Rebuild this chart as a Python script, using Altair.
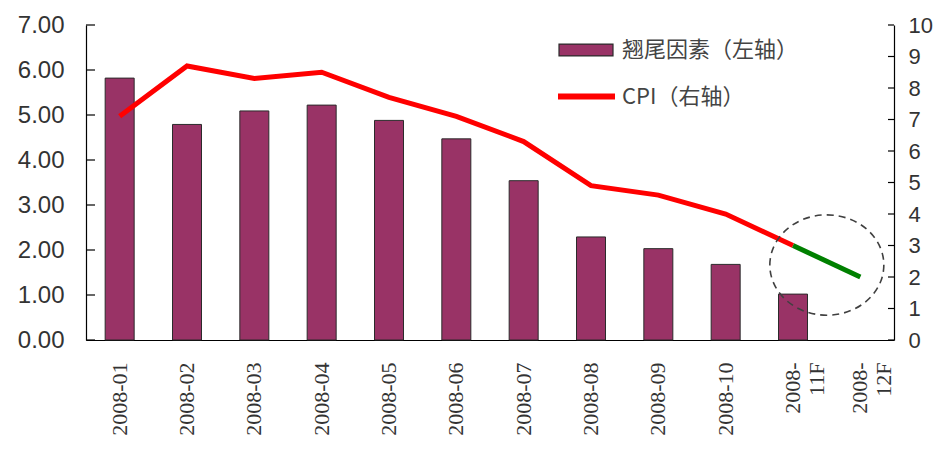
import altair as alt
import pandas as pd

# ---- data ----
months = ["2008-01", "2008-02", "2008-03", "2008-04", "2008-05", "2008-06",
          "2008-07", "2008-08", "2008-09", "2008-10", "2008-11F", "2008-12F"]
tail_months = months[:11]
tail_values = [5.82, 4.79, 5.09, 5.22, 4.88, 4.47, 3.54, 2.29, 2.03, 1.68, 1.02]
cpi_actual_months = months[:11]
cpi_actual = [7.1, 8.7, 8.3, 8.5, 7.7, 7.1, 6.3, 4.9, 4.6, 4.0, 3.0]
cpi_forecast_months = months[10:]
cpi_forecast = [3.0, 2.0]
left_ticks = [0, 1, 2, 3, 4, 5, 6, 7]
right_ticks = [0, 1, 2, 3, 4, 5, 6, 7, 8, 9, 10]
circle_month = ["2008-12F"]
circle_cpi = [2.38]

BAR_NAME = "翘尾因素（左轴）"
CPI_NAME = "CPI（右轴）"
FC_NAME = "预测"

bars_df = pd.DataFrame({"month": tail_months, "value": tail_values, "s": BAR_NAME})
line_df = pd.concat([
    pd.DataFrame({"month": cpi_actual_months, "cpi": cpi_actual, "s": CPI_NAME}),
    pd.DataFrame({"month": cpi_forecast_months, "cpi": cpi_forecast, "s": FC_NAME}),
], ignore_index=True)
lt_df = pd.DataFrame({"value": left_ticks})
rt_df = pd.DataFrame({"cpi": right_ticks})
circ_df = pd.DataFrame({"month": circle_month, "cpi": circle_cpi})

W, H = 808, 315
xscale = alt.Scale(domain=months, paddingInner=0, paddingOuter=0)
x_axis = alt.Axis(
    title=None, labelAngle=270, labelFont="Liberation Serif", labelFontSize=22,
    labelColor="#333333", ticks=False, labelPadding=22, domainColor="#000000",
    domainWidth=1.2, labelLimit=200,
    labelExpr="length(datum.label) > 7 ? [slice(datum.label, 0, 5), slice(datum.label, 5)] : datum.label",
)
yl = alt.Scale(domain=[0, 7], nice=False, zero=True)
yr = alt.Scale(domain=[0, 10], nice=False, zero=True)
yl_axis = alt.Axis(
    title=None, values=left_ticks, format=".2f", ticks=False, labelPadding=22,
    labelFont="Liberation Sans", labelFontSize=24, labelColor="#333333",
    domainColor="#000000", domainWidth=1.2, grid=False, orient="left")
yr_axis = alt.Axis(
    title=None, values=right_ticks, ticks=False, labelPadding=14,
    labelFont="Liberation Sans", labelFontSize=22, labelColor="#333333",
    domainColor="#000000", domainWidth=1.2, grid=False, orient="right")

bars = alt.Chart(bars_df).mark_bar(width=29, stroke="#2b2b2b", strokeWidth=1).encode(
    x=alt.X("month:N", scale=xscale, sort=months, axis=x_axis),
    y=alt.Y("value:Q", scale=yl, axis=yl_axis),
    color=alt.Color("s:N", scale=alt.Scale(domain=[BAR_NAME], range=["#993366"]),
                    legend=alt.Legend(
                        title=None, orient="none", legendX=472, legendY=-3,
                        symbolType="M-1,-0.22H1V0.22H-1Z", symbolSize=2916,
                        symbolStrokeColor="#2b2b2b", symbolStrokeWidth=1.2,
                        symbolOpacity=1, labelFont="Noto Sans CJK SC",
                        labelFontSize=22, labelColor="#444444", labelOffset=8,
                        labelLimit=400, padding=0)),
)
lticks = alt.Chart(lt_df).mark_rule(color="#000000", strokeWidth=1.2).encode(
    y=alt.Y("value:Q", scale=yl, axis=yl_axis),
    x=alt.value(0), x2=alt.value(9),
)
left = alt.layer(bars, lticks)

line = alt.Chart(line_df).mark_line(strokeWidth=5).encode(
    x=alt.X("month:N", scale=xscale, sort=months, axis=x_axis),
    y=alt.Y("cpi:Q", scale=yr, axis=yr_axis),
    color=alt.Color("s:N", scale=alt.Scale(domain=[CPI_NAME, FC_NAME], range=["#ff0000", "#008000"]),
                    legend=alt.Legend(
                        title=None, orient="none", legendX=469, legendY=40,
                        values=[CPI_NAME], symbolType="stroke", symbolSize=3249,
                        symbolStrokeWidth=6, labelFont="Noto Sans CJK SC",
                        labelFontSize=22, labelColor="#444444", labelOffset=4,
                        labelLimit=400, padding=0)),
    detail="s:N",
)
ellipse = alt.Chart(circ_df).mark_point(
    shape="M-1,0A1,0.88,0,1,1,1,0A1,0.88,0,1,1,-1,0Z", size=12996, filled=False,
    stroke="#404040", strokeWidth=1.6, strokeDash=[7, 5], opacity=1, xOffset=-33.5,
).encode(
    x=alt.X("month:N", scale=xscale, sort=months, axis=x_axis),
    y=alt.Y("cpi:Q", scale=yr, axis=yr_axis),
)
rticks = alt.Chart(rt_df).mark_rule(color="#000000", strokeWidth=1.2).encode(
    y=alt.Y("cpi:Q", scale=yr, axis=yr_axis),
    x=alt.value(W - 6), x2=alt.value(W),
)
right = alt.layer(line, ellipse, rticks)

chart = alt.layer(left, right).resolve_scale(
    y="independent", color="independent"
).properties(
    width=W, height=H,
    padding={"left": 78, "top": 17, "right": 40, "bottom": 96},
    autosize=alt.AutoSizeParams(type="none"),
    background="#ffffff",
).configure_view(stroke=None)

chart.save("out.html", embed_options={"renderer": "svg", "actions": False})
